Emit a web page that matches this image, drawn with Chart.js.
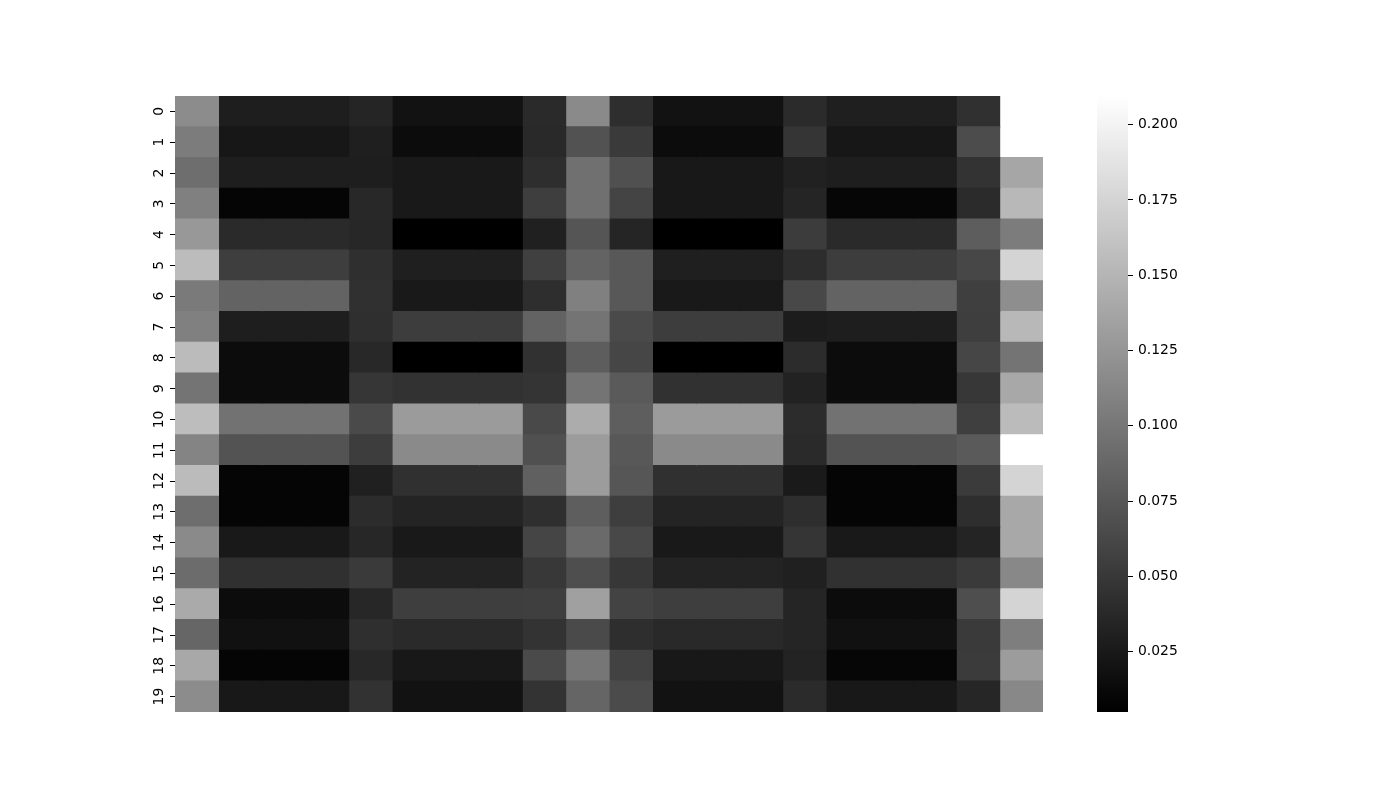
<!DOCTYPE html>
<html>
<head>
<meta charset="utf-8">
<title>Heatmap</title>
<script src="https://cdn.jsdelivr.net/npm/chart.js@4.4.1/dist/chart.umd.min.js"></script>
<style>
  html, body { margin: 0; padding: 0; background: #fff; }
  #wrap { position: relative; width: 1400px; height: 800px; }
  #heat { position: absolute; left: 0; top: 0; }
  #cbar { position: absolute; left: 1090px; top: 0; }
</style>
</head>
<body>
<div id="wrap">
  <canvas id="heat" width="1400" height="800"></canvas>
  <canvas id="cbar" width="130" height="800"></canvas>
</div>
<script>
// Row labels (y axis) and column indices
const rowLabels = ['0', '1', '2', '3', '4', '5', '6', '7', '8', '9', '10', '11', '12', '13', '14', '15', '16', '17', '18', '19'];
const colIndex = [0, 1, 2, 3, 4, 5, 6, 7, 8, 9, 10, 11, 12, 13, 14, 15, 16, 17, 18, 19];

// Colour scale range and colorbar ticks
const vmin = 0.005;
const vmax = 0.2095;
const cbarTicks = [0.025, 0.05, 0.075, 0.1, 0.125, 0.15, 0.175, 0.2];

// Cell values, one array per row (null = missing)
const values = [
  [0.1173, 0.0291, 0.0291, 0.0291, 0.0347, 0.0194, 0.0194, 0.0194, 0.0387, 0.1157, 0.0419, 0.0194, 0.0194, 0.0194, 0.0395, 0.0299, 0.0299, 0.0299, 0.0435, null],
  [0.1044, 0.0234, 0.0234, 0.0234, 0.0299, 0.0146, 0.0146, 0.0146, 0.0379, 0.0708, 0.0515, 0.0146, 0.0146, 0.0146, 0.0475, 0.0234, 0.0234, 0.0234, 0.0660, null],
  [0.0932, 0.0291, 0.0291, 0.0291, 0.0291, 0.0250, 0.0250, 0.0250, 0.0419, 0.0948, 0.0692, 0.0242, 0.0242, 0.0242, 0.0315, 0.0291, 0.0291, 0.0291, 0.0459, 0.1381],
  [0.1077, 0.0090, 0.0090, 0.0090, 0.0371, 0.0250, 0.0250, 0.0250, 0.0547, 0.0948, 0.0595, 0.0242, 0.0242, 0.0242, 0.0347, 0.0098, 0.0098, 0.0098, 0.0395, 0.1525],
  [0.1269, 0.0387, 0.0387, 0.0387, 0.0363, 0.0050, 0.0050, 0.0050, 0.0307, 0.0732, 0.0347, 0.0050, 0.0050, 0.0050, 0.0531, 0.0387, 0.0387, 0.0387, 0.0796, 0.1044],
  [0.1558, 0.0547, 0.0547, 0.0547, 0.0427, 0.0299, 0.0299, 0.0299, 0.0563, 0.0844, 0.0756, 0.0299, 0.0299, 0.0299, 0.0411, 0.0539, 0.0539, 0.0539, 0.0619, 0.1750],
  [0.1028, 0.0844, 0.0844, 0.0844, 0.0435, 0.0250, 0.0250, 0.0250, 0.0419, 0.1077, 0.0756, 0.0250, 0.0250, 0.0250, 0.0627, 0.0844, 0.0844, 0.0844, 0.0555, 0.1189],
  [0.1077, 0.0291, 0.0291, 0.0291, 0.0427, 0.0539, 0.0539, 0.0539, 0.0844, 0.0980, 0.0643, 0.0539, 0.0539, 0.0539, 0.0275, 0.0291, 0.0291, 0.0291, 0.0547, 0.1525],
  [0.1550, 0.0146, 0.0146, 0.0146, 0.0371, 0.0050, 0.0050, 0.0050, 0.0443, 0.0796, 0.0611, 0.0050, 0.0050, 0.0050, 0.0403, 0.0146, 0.0146, 0.0146, 0.0611, 0.0980],
  [0.0980, 0.0146, 0.0146, 0.0146, 0.0483, 0.0451, 0.0451, 0.0451, 0.0467, 0.0980, 0.0772, 0.0443, 0.0443, 0.0443, 0.0323, 0.0146, 0.0146, 0.0146, 0.0491, 0.1397],
  [0.1566, 0.0964, 0.0964, 0.0964, 0.0643, 0.1293, 0.1293, 0.1293, 0.0635, 0.1429, 0.0804, 0.1293, 0.1293, 0.1293, 0.0403, 0.0964, 0.0964, 0.0964, 0.0555, 0.1550],
  [0.1109, 0.0716, 0.0716, 0.0716, 0.0539, 0.1157, 0.1157, 0.1157, 0.0692, 0.1301, 0.0756, 0.1157, 0.1157, 0.1157, 0.0387, 0.0716, 0.0716, 0.0716, 0.0772, 0.2095],
  [0.1550, 0.0090, 0.0090, 0.0090, 0.0307, 0.0435, 0.0435, 0.0435, 0.0820, 0.1301, 0.0740, 0.0435, 0.0435, 0.0435, 0.0259, 0.0090, 0.0090, 0.0090, 0.0523, 0.1750],
  [0.0932, 0.0090, 0.0090, 0.0090, 0.0403, 0.0339, 0.0339, 0.0339, 0.0427, 0.0804, 0.0547, 0.0339, 0.0339, 0.0339, 0.0419, 0.0090, 0.0090, 0.0090, 0.0419, 0.1397],
  [0.1157, 0.0250, 0.0250, 0.0250, 0.0363, 0.0250, 0.0250, 0.0250, 0.0603, 0.0900, 0.0627, 0.0250, 0.0250, 0.0250, 0.0475, 0.0250, 0.0250, 0.0250, 0.0339, 0.1397],
  [0.0916, 0.0435, 0.0435, 0.0435, 0.0515, 0.0331, 0.0331, 0.0331, 0.0499, 0.0676, 0.0491, 0.0331, 0.0331, 0.0331, 0.0307, 0.0443, 0.0443, 0.0443, 0.0515, 0.1141],
  [0.1413, 0.0146, 0.0146, 0.0146, 0.0363, 0.0547, 0.0547, 0.0547, 0.0555, 0.1333, 0.0587, 0.0547, 0.0547, 0.0547, 0.0347, 0.0146, 0.0146, 0.0146, 0.0676, 0.1750],
  [0.0868, 0.0186, 0.0186, 0.0186, 0.0427, 0.0387, 0.0387, 0.0387, 0.0459, 0.0643, 0.0419, 0.0379, 0.0379, 0.0379, 0.0347, 0.0186, 0.0186, 0.0186, 0.0515, 0.1060],
  [0.1397, 0.0090, 0.0090, 0.0090, 0.0371, 0.0242, 0.0242, 0.0242, 0.0643, 0.0996, 0.0579, 0.0242, 0.0242, 0.0242, 0.0331, 0.0098, 0.0098, 0.0098, 0.0523, 0.1301],
  [0.1173, 0.0242, 0.0242, 0.0242, 0.0451, 0.0194, 0.0194, 0.0194, 0.0459, 0.0860, 0.0651, 0.0194, 0.0194, 0.0194, 0.0395, 0.0242, 0.0242, 0.0242, 0.0355, 0.1141],
];

Chart.defaults.font.family = "'DejaVu Sans', sans-serif";
Chart.defaults.font.size = 13.9;
Chart.defaults.color = '#000';

/** Map a value to the black-to-white colormap. */
function gray(v) {
  const t = Math.max(0, Math.min(1, (v - vmin) / (vmax - vmin)));
  const g = Math.round(t * 255);
  return `rgb(${g},${g},${g})`;
}

// One floating-bar dataset per column, rows on the category axis
const datasets = colIndex.map(j => ({
  data: values.map(r => (r[j] == null ? null : [j, j + 1])),
  backgroundColor: values.map(r => (r[j] == null ? 'rgba(0,0,0,0)' : gray(r[j]))),
  borderWidth: 0, barPercentage: 1, categoryPercentage: 1, grouped: false, inflateAmount: 0.6,
}));

new Chart(document.getElementById('heat'), {
  type: 'bar',
  data: { labels: rowLabels, datasets },
  options: {
    indexAxis: 'y', responsive: false, animation: false,
    layout: { padding: { left: 135, right: 357, top: 96, bottom: 88 } },
    plugins: { legend: { display: false }, tooltip: { enabled: false } },
    scales: {
      x: { type: 'linear', min: 0, max: 20, display: false },
      y: {
        type: 'category', offset: true,
        border: { display: false },
        grid: { offset: false, drawOnChartArea: false, tickLength: 5, color: '#000', lineWidth: 1 },
        ticks: { color: '#000', minRotation: 90, maxRotation: 90, crossAlign: 'center', padding: 2, autoSkip: false },
        afterFit: s => { s.width = 40; },
      },
    },
  },
});

// Colorbar: a single floating bar spanning the value range with a gradient fill
new Chart(document.getElementById('cbar'), {
  type: 'bar',
  data: {
    labels: [''],
    datasets: [{
      data: [[vmin, vmax]],
      backgroundColor: c => {
        const area = c.chart.chartArea;
        if (!area) return '#000';
        const g = c.chart.ctx.createLinearGradient(0, area.bottom, 0, area.top);
        g.addColorStop(0, '#000');
        g.addColorStop(1, '#fff');
        return g;
      },
      borderWidth: 0, barPercentage: 1, categoryPercentage: 1,
    }],
  },
  options: {
    responsive: false, animation: false,
    layout: { padding: { left: 7, right: 0, top: 96, bottom: 88 } },
    plugins: { legend: { display: false }, tooltip: { enabled: false } },
    scales: {
      x: { display: false },
      y: {
        position: 'right', min: vmin, max: vmax,
        border: { display: false },
        grid: { drawOnChartArea: false, tickLength: 5, color: '#000', lineWidth: 1 },
        ticks: { color: '#000', padding: 5, callback: v => v.toFixed(3) },
        afterBuildTicks: s => { s.ticks = cbarTicks.map(v => ({ value: v })); },
        afterFit: s => { s.width = 92; },
      },
    },
  },
});
</script>
</body>
</html>
